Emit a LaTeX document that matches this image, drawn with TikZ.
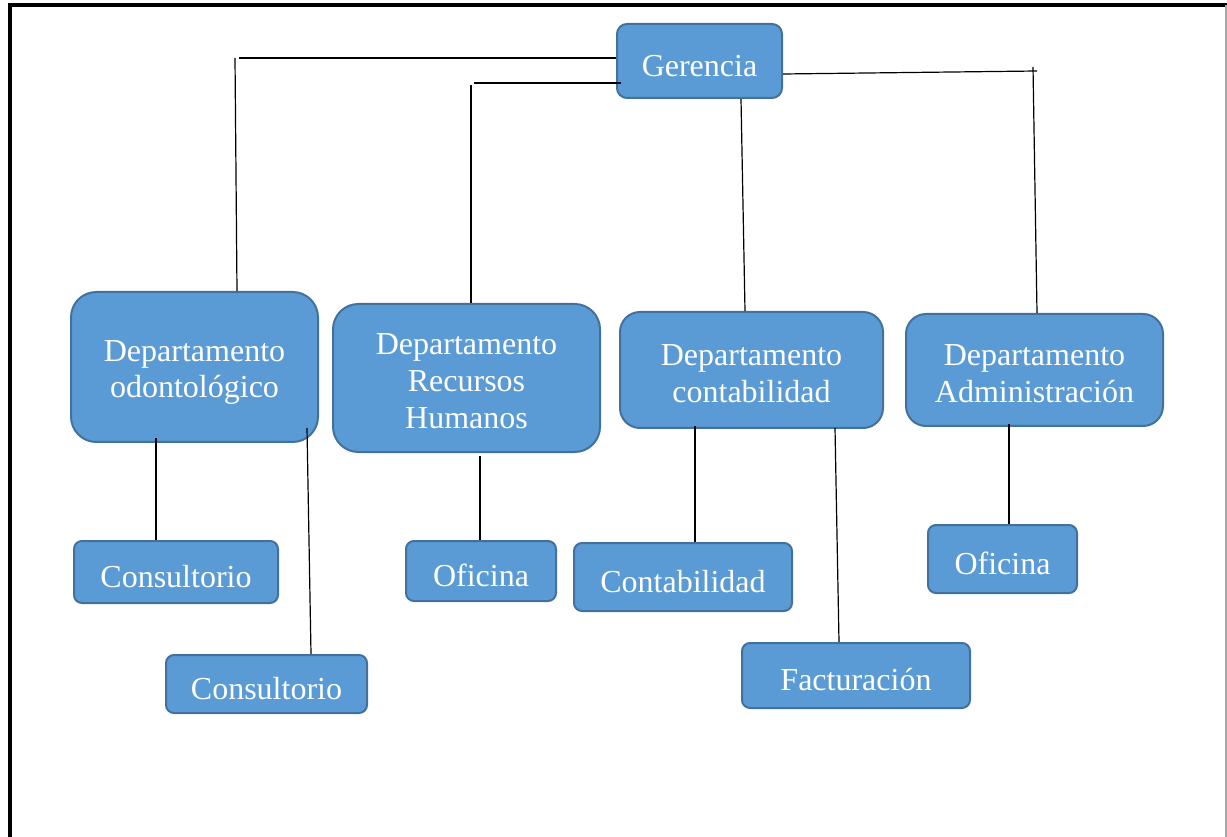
\documentclass[tikz,border=0pt]{standalone}
\usepackage{fontspec}
\setmainfont{Liberation Serif}
\definecolor{boxfill}{HTML}{5B9BD5}
\definecolor{boxline}{HTML}{41719C}
\begin{document}
\begin{tikzpicture}[x=0.75pt,y=-0.75pt,
  unit box/.style={draw=boxline, fill=boxfill, line width=1.5pt, text=white,
    align=center, inner sep=0pt, font=\fontsize{24}{27.6}\selectfont,
    text lift=23pt},
  text lift/.style={execute at begin node={\rule{0pt}{#1}}},
  size/.style 2 args={minimum width=#1*0.75pt, minimum height=#2*0.75pt},
  dept/.style={unit box, rounded corners=17pt},
  head/.style={unit box, rounded corners=7.5pt},
  leaf/.style={unit box, rounded corners=6pt},
  link/.style={draw=black, line width=0.9pt}]
\useasboundingbox (0,0) rectangle (1227,837);
% page frame
\draw[line width=2.4pt] (10,837) -- (10,5) -- (1227,5);
\draw[gray!70, line width=1pt] (1226,5) -- (1226,837);

% management
\node[head, size={165}{74}] (ger) at (699.5,61) {Gerencia};

% departments
\node[dept, size={247}{150}, rounded corners=19pt, text lift=51.5pt] (dodo) at (194.5,367) {Departamento\\odontológico};
\node[dept, size={267}{148}, rounded corners=19pt, text lift=76pt] (drh) at (466.5,378) {Departamento\\Recursos\\Humanos};
\node[dept, size={263}{116}, rounded corners=15pt, text lift=48.5pt] (dcon) at (751.5,370) {Departamento\\contabilidad};
\node[dept, size={257}{112}, rounded corners=15pt, text lift=48.5pt] (dadm) at (1034.5,370) {Departamento\\Administración};

% units
\node[leaf, size={204}{62}] (cons1) at (176,572) {Consultorio};
\node[leaf, size={201}{58}] (cons2) at (266.5,684) {Consultorio};
\node[leaf, size={150}{60}] (ofrh) at (481,571) {Oficina};
\node[leaf, size={218}{68}] (cont) at (683,577) {Contabilidad};
\node[leaf, size={228}{65}] (fact) at (856,675.5) {Facturación};
\node[leaf, size={149}{68}] (ofad) at (1002.5,559) {Oficina};

% connector ends
\coordinate (odoH) at (239,58);
\coordinate (odoV) at (235,58);
\coordinate (rhH) at (474,83);
\coordinate (rhV) at (471,85);
\coordinate (admH) at (1037,71);
\coordinate (admV) at (1033,67);

% Gerencia to departments
\draw[link] (odoH) -- (ger.west |- odoH);
\draw[link] (odoV) -- (dodo.north -| 237,0);
\draw[link] (rhH) -- (621,83);
\draw[link] (rhV) -- (drh.north -| rhV);
\draw[link] (ger.south -| 741,0) -- (dcon.north -| 745,0);
\draw[link] (ger.east |- 0,74) -- (admH);
\draw[link] (admV) -- (dadm.north -| 1037,0);

% departments to units
\draw[link] (156,438) -- (cons1.north -| 156,0);
\draw[link] (307,428) -- (cons2.north -| 311,0);
\draw[link] (480,456) -- (ofrh.north -| 480,0);
\draw[link] (695,426) -- (cont.north -| 695,0);
\draw[link] (835,428) -- (fact.north -| 839,0);
\draw[link] (1009,424) -- (ofad.north -| 1009,0);
\end{tikzpicture}
\end{document}
